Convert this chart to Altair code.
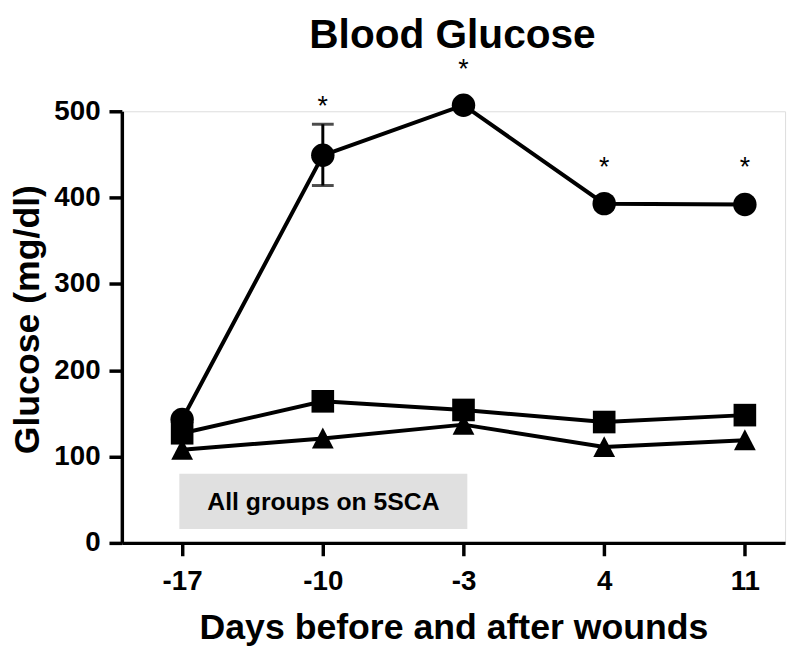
import altair as alt
import pandas as pd

# ---- data ----
days = [-17, -10, -3, 4, 11]
circle_vals = [143, 449, 507, 393, 392]
square_vals = [127, 164, 154, 140, 148]
triangle_vals = [108, 121, 137, 111, 119]

err_day = [-10]
err_low = [414]
err_high = [485]

star_days = [-10, -3, 4, 11]
star_vals = [496, 538, 425, 425]

box_x = [-17.14]
box_x2 = [-2.81]
box_y = [16]
box_y2 = [80]
box_label = ["All groups on 5SCA"]
box_label_x = [-9.97]
box_label_y = [47]

TITLE = ["Blood Glucose"]
FONT = "Liberation Sans"
YTITLE = "Glucose (mg/dl)"

rows = []
for name, vals in [("circle", circle_vals), ("square", square_vals), ("triangle", triangle_vals)]:
    for d, v in zip(days, vals):
        rows.append({"day": d, "glucose": v, "group": name})
df = pd.DataFrame(rows)

xscale = alt.Scale(domain=[-20, 13], nice=False, zero=False)
yscale = alt.Scale(domain=[0, 500], nice=False)

xax = alt.Axis(values=days, title="Days before and after wounds", grid=False,
               domainColor="black", domainWidth=3.5, tickColor="black", tickWidth=3.5,
               tickSize=13, labelFont=FONT, labelFontSize=28, labelFontWeight="bold",
               labelColor="black", labelPadding=12, titleFont=FONT, titleFontSize=36,
               titleFontWeight="bold", titleColor="black", titleBaseline="alphabetic",
               titleY=97, labelFlush=False, labelExpr="toString(datum.value)")
yax = alt.Axis(values=[0, 100, 200, 300, 400, 500], title=YTITLE, grid=False,
               domainColor="black", domainWidth=3.5, tickColor="black", tickWidth=3.5,
               tickSize=13, labelFont=FONT, labelFontSize=28, labelFontWeight="bold",
               labelColor="black", labelPadding=9, titleFont=FONT, titleFontSize=36,
               titleFontWeight="bold", titleColor="black", titleBaseline="alphabetic",
               titleX=-84, titleY=210, labelFlush=False)

base = alt.Chart(df)

box_df = pd.DataFrame({"x": box_x, "x2": box_x2, "y": box_y, "y2": box_y2,
                       "label": box_label, "lx": box_label_x, "ly": box_label_y})
box = alt.Chart(box_df).mark_rect(color="#e0e0e0").encode(
    x=alt.X("x:Q", scale=xscale, axis=xax), x2="x2:Q",
    y=alt.Y("y:Q", scale=yscale, axis=yax), y2="y2:Q")
box_text = alt.Chart(box_df).mark_text(font=FONT, fontSize=25, fontWeight="bold",
                                       color="black", baseline="middle").encode(
    x=alt.X("lx:Q", scale=xscale, axis=xax), y=alt.Y("ly:Q", scale=yscale, axis=yax),
    text="label:N")

lines = base.mark_line(color="black", strokeWidth=4).encode(
    x=alt.X("day:Q", scale=xscale, axis=xax), y=alt.Y("glucose:Q", scale=yscale, axis=yax),
    detail="group:N")

shape_scale = alt.Scale(domain=["circle", "square", "triangle"],
                        range=["circle", "square", "M-1,0.92L1,0.92L0,-1Z"])
size_scale = alt.Scale(domain=["circle", "square", "triangle"], range=[560, 484, 540])
points = base.mark_point(filled=True, color="black", opacity=1).encode(
    x=alt.X("day:Q", scale=xscale, axis=xax), y=alt.Y("glucose:Q", scale=yscale, axis=yax),
    shape=alt.Shape("group:N", scale=shape_scale, legend=None),
    size=alt.Size("group:N", scale=size_scale, legend=None))

err_df = pd.DataFrame({"day": err_day, "low": err_low, "high": err_high})
err = alt.Chart(err_df).mark_errorbar(ticks=alt.TickConfig(size=22, thickness=3, color="black"),
                                      thickness=3, color="black").encode(
    x=alt.X("day:Q", scale=xscale, axis=xax),
    y=alt.Y("low:Q", scale=yscale, axis=yax, title=YTITLE), y2="high:Q")

star_df = pd.DataFrame({"day": star_days, "v": star_vals, "t": ["*"] * len(star_days)})
stars = alt.Chart(star_df).mark_text(font=FONT, fontSize=27, color="black",
                                     baseline="alphabetic").encode(
    x=alt.X("day:Q", scale=xscale, axis=xax), y=alt.Y("v:Q", scale=yscale, axis=yax),
    text="t:N")

# chart title, drawn as a text layer placed above the plot area
title_df = pd.DataFrame({"t": TITLE})
title = alt.Chart(title_df).mark_text(font=FONT, fontSize=41, fontWeight="bold",
                                      color="black", baseline="alphabetic",
                                      align="center").encode(
    x=alt.value(334), y=alt.value(-64), text="t:N")

chart = alt.layer(box, box_text, err, lines, points, stars, title).properties(
    width=670, height=436,
    autosize=alt.AutoSizeParams(type="none"),
    padding={"left": 115, "top": 101, "right": 7, "bottom": 118},
).configure_view(stroke=None).configure(background="white")

chart.save("out.html", embed_options={"renderer": "svg", "actions": False})
